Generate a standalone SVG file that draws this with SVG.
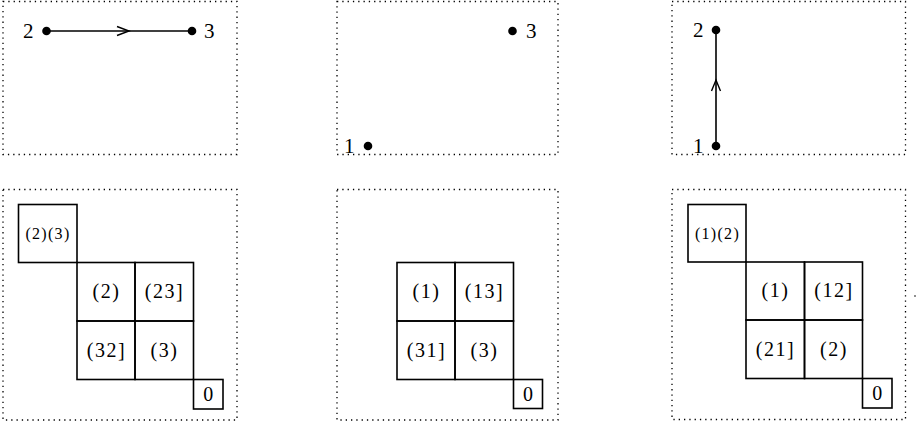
<svg xmlns="http://www.w3.org/2000/svg" width="918" height="427" viewBox="0 0 918 427">
<style>
.frame{fill:none;stroke:#000;stroke-width:1.3;stroke-dasharray:1.3 4}
.box{fill:none;stroke:#000;stroke-width:1.6}
.edge{fill:none;stroke:#000;stroke-width:1.6}
.chev{fill:none;stroke:#000;stroke-width:1.4}
.dot{fill:#000}
text{font-family:"Liberation Serif","DejaVu Serif",serif;fill:#000}
.lbl{font-size:21px}
.cell{font-size:20px;text-anchor:middle;letter-spacing:1.5px}
.small{font-size:16px;text-anchor:middle;letter-spacing:1.3px}
.zero{font-size:20px;text-anchor:middle}
</style>
<rect width="918" height="427" fill="#fff"/>
<g id="frames">
<rect class="frame" x="3" y="1.5" width="234" height="153"/>
<rect class="frame" x="337" y="1.5" width="221" height="153"/>
<rect class="frame" x="672" y="1.5" width="233.5" height="153"/>
<rect class="frame" x="3" y="189.5" width="234" height="230.5"/>
<rect class="frame" x="337" y="189.5" width="221" height="230.5"/>
<rect class="frame" x="672" y="189.5" width="233.5" height="230"/>
</g>
<g id="connectors">
<line class="edge" x1="46.5" y1="31" x2="192" y2="31"/>
<polyline class="chev" points="117,26.5 129,31 117,35.5"/>
<line class="edge" x1="716" y1="146" x2="716" y2="30"/>
<polyline class="chev" points="711.5,91 716,80 720.5,91"/>
</g>
<g id="n-tl-2"><circle class="dot" cx="46.5" cy="31" r="4.3"/><text class="lbl" x="23" y="38">2</text></g>
<g id="n-tl-3"><circle class="dot" cx="192" cy="31" r="4.3"/><text class="lbl" x="204" y="38">3</text></g>
<g id="n-tm-3"><circle class="dot" cx="512.5" cy="31" r="4.3"/><text class="lbl" x="526" y="38">3</text></g>
<g id="n-tm-1"><circle class="dot" cx="368" cy="146" r="4.3"/><text class="lbl" x="344" y="153">1</text></g>
<g id="n-tr-2"><circle class="dot" cx="716" cy="30" r="4.3"/><text class="lbl" x="693" y="37">2</text></g>
<g id="n-tr-1"><circle class="dot" cx="716" cy="146" r="4.3"/><text class="lbl" x="693" y="153">1</text></g>
<g id="bl-top"><rect class="box" x="18.5" y="204.5" width="58.5" height="58"/><text class="small" x="48" y="239">(2)(3)</text></g>
<g id="bl-c11"><rect class="box" x="77" y="262.5" width="58" height="58.5"/><text class="cell" x="106.5" y="298">(2)</text></g>
<g id="bl-c12"><rect class="box" x="135" y="262.5" width="58.5" height="58.5"/><text class="cell" x="164.5" y="298">(23]</text></g>
<g id="bl-c21"><rect class="box" x="77" y="321" width="58" height="58.5"/><text class="cell" x="106.5" y="357">(32]</text></g>
<g id="bl-c22"><rect class="box" x="135" y="321" width="58.5" height="58.5"/><text class="cell" x="164.5" y="357">(3)</text></g>
<g id="bl-zero"><rect class="box" x="193.5" y="379.5" width="29.5" height="29.5"/><text class="zero" x="208.2" y="401">0</text></g>
<g id="bm-c11"><rect class="box" x="397" y="262.5" width="58" height="58.5"/><text class="cell" x="426.5" y="298">(1)</text></g>
<g id="bm-c12"><rect class="box" x="455" y="262.5" width="58.5" height="58.5"/><text class="cell" x="484.5" y="298">(13]</text></g>
<g id="bm-c21"><rect class="box" x="397" y="321" width="58" height="58.5"/><text class="cell" x="426.5" y="357">(31]</text></g>
<g id="bm-c22"><rect class="box" x="455" y="321" width="58.5" height="58.5"/><text class="cell" x="484.5" y="357">(3)</text></g>
<g id="bm-zero"><rect class="box" x="513.5" y="379.5" width="29" height="29"/><text class="zero" x="528" y="401">0</text></g>
<g id="br-top"><rect class="box" x="688" y="204.5" width="58" height="57.5"/><text class="small" x="717.5" y="239">(1)(2)</text></g>
<g id="br-c11"><rect class="box" x="746" y="262" width="58.5" height="58"/><text class="cell" x="775.5" y="297">(1)</text></g>
<g id="br-c12"><rect class="box" x="804.5" y="262" width="58" height="58"/><text class="cell" x="834" y="297">(12]</text></g>
<g id="br-c21"><rect class="box" x="746" y="320" width="58.5" height="58.5"/><text class="cell" x="775.5" y="356">(21]</text></g>
<g id="br-c22"><rect class="box" x="804.5" y="320" width="58" height="58.5"/><text class="cell" x="834" y="356">(2)</text></g>
<g id="br-zero"><rect class="box" x="862.5" y="378.5" width="29.5" height="29.5"/><text class="zero" x="877.2" y="400">0</text></g>
<circle class="dot" cx="915" cy="296" r="0.8"/>
</svg>
